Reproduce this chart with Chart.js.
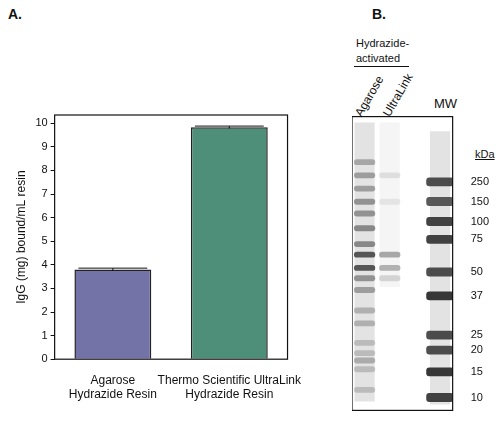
<!DOCTYPE html>
<html>
<head>
<meta charset="utf-8">
<script src="https://cdn.jsdelivr.net/npm/chart.js@4/dist/chart.umd.min.js"></script>
<style>
  body { margin: 0; background: #fff; font-family: "Liberation Sans", sans-serif; }
  .wrap { position: relative; width: 499px; height: 422px; overflow: hidden; }
  .box { position: absolute; }
  .t { position: absolute; font-size: 12px; color: #111; white-space: nowrap; }
  .h { font-weight: bold; font-size: 14px; }
</style>
</head>
<body>
<div class="wrap">
  <div class="t h" style="left:8px;top:6px">A.</div>
  <div class="t h" style="left:372px;top:6px">B.</div>
  <div class="t" style="left:356px;top:36px;line-height:15px;font-size:11px">Hydrazide-<br>activated</div>
  <div style="position:absolute;left:354px;top:66px;width:55px;border-top:1px solid #111"></div>
  <div class="t" style="left:352px;top:112px;transform:rotate(-60deg);transform-origin:0 0;font-size:12px">Agarose</div>
  <div class="t" style="left:380px;top:112px;transform:rotate(-60deg);transform-origin:0 0;font-size:12px">UltraLink</div>
  <div class="t" style="left:434px;top:96px;font-size:13px">MW</div>
  <div class="t" style="left:475px;top:148px;text-decoration:underline;font-size:11px">kDa</div>
  <div class="box" style="left:0;top:100px;width:310px;height:308px"><canvas id="bar"></canvas></div>
  <div class="box" style="left:352px;top:100px;width:147px;height:327px"><canvas id="gel"></canvas></div>
</div>
<script>
// panel A
const resins = [["Agarose", "Hydrazide Resin"], ["Thermo Scientific UltraLink", "Hydrazide Resin"]];
const igGBound = [3.8, 9.83];
const igGError = [0.06, 0.05];
const barColors = ["#7473a8", "#4e8f79"];

// panel B: band positions as % of gel height from top, with darkness
const lanes = ["Agarose", "UltraLink", "", "MW"];
const mwLabels = ["250", "150", "100", "75", "50", "37", "25", "20", "15", "10"];
const mwBands = [22.2, 28.9, 35.7, 41.8, 52.9, 61, 74.4, 79.5, 86.9, 95.6];
const mwDark = [0.75, 0.7, 0.8, 0.8, 0.75, 0.85, 0.75, 0.75, 0.85, 0.8];
const agaroseBands = [15.5, 20, 24.5, 29, 33, 38, 43.4, 47, 51.5, 55, 59, 66, 70.4, 77, 80.5, 83, 86, 93];
const agaroseDark = [0.3, 0.35, 0.35, 0.4, 0.4, 0.45, 0.45, 0.7, 0.7, 0.4, 0.35, 0.25, 0.25, 0.2, 0.2, 0.28, 0.2, 0.2];
const ultraBands = [20, 29, 47, 51.5, 55];
const ultraDark = [0.1, 0.08, 0.35, 0.3, 0.15];

Chart.defaults.font.family = '"Liberation Sans", sans-serif';
Chart.defaults.color = '#111';

const frame = {
  id: 'frame',
  afterDraw(chart) {
    const a = chart.chartArea, c = chart.ctx;
    c.save();
    c.strokeStyle = '#111';
    c.lineWidth = 1.2;
    c.strokeRect(a.left, a.top, a.right - a.left, a.bottom - a.top);
    c.restore();
  }
};

const errorBars = {
  id: 'errorBars',
  afterDatasetsDraw(chart) {
    const c = chart.ctx, y = chart.scales.y;
    const meta = chart.getDatasetMeta(0);
    c.save();
    c.strokeStyle = '#111';
    c.lineWidth = 1;
    meta.data.forEach((bar, i) => {
      const top = y.getPixelForValue(igGBound[i] + igGError[i]);
      const bot = y.getPixelForValue(igGBound[i] - igGError[i]);
      const hw = bar.width / 2 - 4;
      c.beginPath();
      c.moveTo(bar.x, top); c.lineTo(bar.x, bot);
      c.moveTo(bar.x - hw, top); c.lineTo(bar.x + hw, top);
      c.stroke();
    });
    c.restore();
  }
};

new Chart(document.getElementById('bar'), {
  type: 'bar',
  data: {
    labels: resins,
    datasets: [{
      data: igGBound,
      backgroundColor: barColors,
      borderColor: '#222',
      borderWidth: 1.5,
      barPercentage: 0.66,
      categoryPercentage: 1
    }]
  },
  options: {
    responsive: true,
    maintainAspectRatio: false,
    animation: false,
    layout: { padding: { top: 15, right: 12, left: 10 } },
    plugins: { legend: { display: false }, tooltip: { enabled: false } },
    scales: {
      x: {
        grid: { display: false },
        border: { display: false },
        ticks: { font: { size: 12 }, color: '#111', padding: 6, maxRotation: 0, autoSkip: false }
      },
      y: {
        min: 0, max: 10.35,
        afterBuildTicks(s) { s.ticks = [0,1,2,3,4,5,6,7,8,9,10].map(v => ({ value: v })); },
        grid: { drawOnChartArea: false, tickLength: 4, color: '#111' },
        border: { display: false },
        ticks: { font: { size: 11 }, color: '#111', padding: 3 },
        title: { display: true, text: 'IgG (mg) bound/mL resin', font: { size: 12 }, color: '#111', padding: 4 }
      }
    }
  },
  plugins: [frame, errorBars]
});

// gel: each band is a floating bar in its lane
function bandSets(positions, dark, laneIdx, half) {
  return positions.map((p, i) => {
    const d = [null, null, null, null];
    d[laneIdx] = [p - half, p + half];
    return {
      data: d,
      backgroundColor: `rgba(20,20,20,${dark[i]})`,
      borderWidth: 0,
      borderRadius: 3,
      borderSkipped: false,
      grouped: false,
      barPercentage: laneIdx === 3 ? 1.1 : 0.85,
      categoryPercentage: 1
    };
  });
}
const smear = {
  data: [[2, 97], [2, 58], null, [5, 98]],
  backgroundColor: ['rgba(60,60,60,0.14)', 'rgba(60,60,60,0.05)', 'rgba(0,0,0,0)', 'rgba(60,60,60,0.14)'],
  borderWidth: 0, grouped: false, barPercentage: 0.8, categoryPercentage: 1
};

new Chart(document.getElementById('gel'), {
  type: 'bar',
  data: {
    labels: lanes,
    datasets: [smear]
      .concat(bandSets(agaroseBands, agaroseDark, 0, 1.0))
      .concat(bandSets(ultraBands, ultraDark, 1, 1.0))
      .concat(bandSets(mwBands, mwDark, 3, 1.5))
  },
  options: {
    responsive: true,
    maintainAspectRatio: false,
    animation: false,
    layout: { padding: { top: 14, bottom: 9 } },
    plugins: { legend: { display: false }, tooltip: { enabled: false } },
    scales: {
      x: { display: false, offset: true },
      y: {
        position: 'right',
        reverse: true,
        min: 0, max: 100,
        afterBuildTicks(s) { s.ticks = mwBands.map(v => ({ value: v })); },
        grid: { display: false },
        border: { display: false },
        ticks: {
          font: { size: 11 }, color: '#111', padding: 10,
          callback: (v, i) => mwLabels[i]
        }
      }
    }
  },
  plugins: [frame]
});
</script>
</body>
</html>
